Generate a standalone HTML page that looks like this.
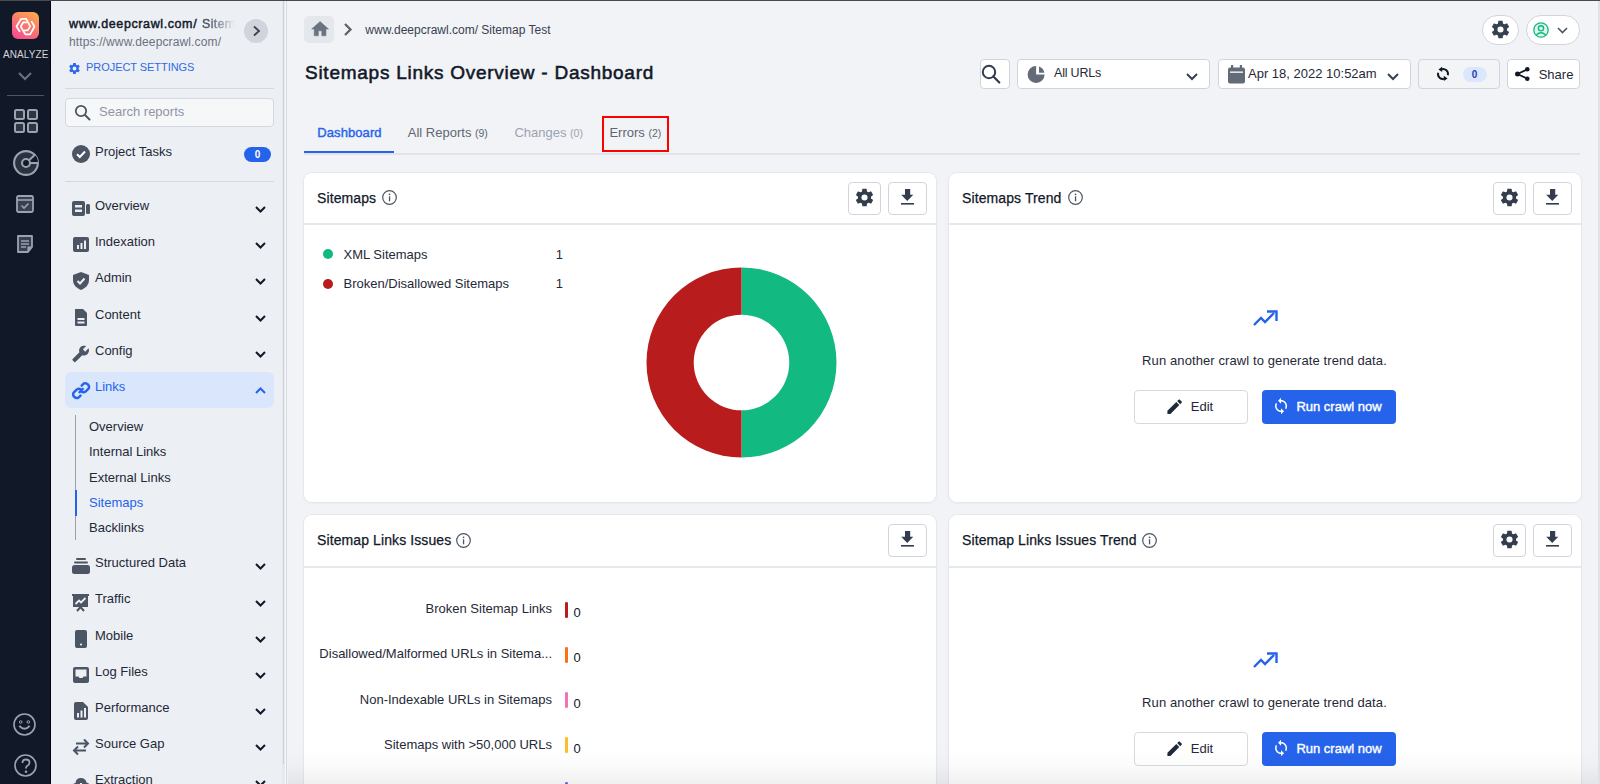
<!DOCTYPE html>
<html><head><meta charset="utf-8">
<style>
*{box-sizing:border-box;margin:0;padding:0}
html,body{width:1600px;height:784px;overflow:hidden;background:#f1f3f7;font-family:"Liberation Sans",Arial,sans-serif;color:#111827}
.abs{position:absolute}
.t{position:absolute;white-space:nowrap;line-height:1}
svg{position:absolute;overflow:visible}
</style></head><body>
<div class="abs" style="left:0px;top:0px;width:51px;height:784px;background:#111827"></div>
<div class="abs" style="left:50px;top:0px;width:1px;height:784px;background:#03050a"></div>
<div class="abs" style="left:12px;top:12px;width:27px;height:27px;border-radius:6px;background:linear-gradient(210deg,#fdb24a 0%,#f8776c 50%,#f5449c 100%)"></div>
<svg style="left:12px;top:12px" width="27" height="27" viewBox="0 0 27 27"><g fill="none" stroke="#fff" stroke-width="1.7" stroke-linejoin="round" stroke-linecap="round"><path d="M7.6 19.2 L4.5 14.5 L9.2 6.8 L14.2 6.8 L18.2 14.3 L15.8 18.4 L12.6 18.4"/><path d="M19.8 9.8 L22.5 14.5 L18.2 22.3 L13.3 22.3 L8.7 14.5 L11.3 10.3 L14.6 10.3"/></g></svg>
<div class="t" style="left:3px;top:49.53px;font-size:10px;color:#d1d5db;letter-spacing:0.1px;">ANALYZE</div>
<svg style="left:18px;top:72px" width="14" height="8" viewBox="0 0 14 8"><path d="M1 1 L7 7 L13 1" fill="none" stroke="#6b7280" stroke-width="2"/></svg>
<div class="abs" style="left:7px;top:95px;width:37px;height:1px;background:#4b5563"></div>
<svg style="left:14px;top:109px" width="24" height="24" viewBox="0 0 24 24"><g fill="#2d3442" stroke="#9ca3af" stroke-width="2"><rect x="1" y="1" width="9" height="9" rx="1.5"/><rect x="14" y="1" width="9" height="9" rx="1.5"/><rect x="1" y="14" width="9" height="9" rx="1.5"/><rect x="14" y="14" width="9" height="9" rx="1.5"/></g></svg>
<svg style="left:12.9px;top:149.7px" width="26" height="26" viewBox="0 0 26 26"><circle cx="13" cy="13" r="11.9" fill="#2a3140" stroke="#9ca3af" stroke-width="2.1"/><path d="M13 13 L22 4.8 A11.9 11.9 0 0 1 24.9 13 Z" fill="#111827"/><path d="M16 10.3 L22.3 4.5 M17 13 L25 13" stroke="#9ca3af" stroke-width="2"/><circle cx="13" cy="13" r="4" fill="#111827" stroke="#9ca3af" stroke-width="2.1"/></svg>
<svg style="left:16px;top:195px" width="18" height="18" viewBox="0 0 18 18"><rect x="1" y="1" width="16" height="16" rx="1.5" fill="#374151" stroke="#9ca3af" stroke-width="1.8"/><path d="M1 5 L17 5" stroke="#9ca3af" stroke-width="1.6"/><path d="M5.5 10.5 L8 13 L12.5 8.5" fill="none" stroke="#9ca3af" stroke-width="1.6"/></svg>
<svg style="left:16px;top:235px" width="18" height="18" viewBox="0 0 18 18"><path d="M2 1 H16 V12 L12 17 H2 Z" fill="#374151" stroke="#9ca3af" stroke-width="1.8" stroke-linejoin="round"/><path d="M5 6 H13 M5 9 H13 M5 12 H10" stroke="#9ca3af" stroke-width="1.5"/><path d="M16 12 H12 V17" fill="#9ca3af" stroke="#9ca3af" stroke-width="1.2"/></svg>
<svg style="left:13px;top:713px" width="23" height="23" viewBox="0 0 23 23"><circle cx="11.5" cy="11.5" r="10.5" fill="none" stroke="#9ca3af" stroke-width="1.6"/><circle cx="7.7" cy="9" r="1.3" fill="none" stroke="#9ca3af" stroke-width="1"/><circle cx="15.3" cy="9" r="1.3" fill="none" stroke="#9ca3af" stroke-width="1"/><path d="M6.3 12.8 Q11.5 18.5 16.7 12.8" fill="none" stroke="#9ca3af" stroke-width="2"/></svg>
<svg style="left:13.5px;top:754px" width="23" height="23" viewBox="0 0 23 23"><circle cx="11.5" cy="11.5" r="10.5" fill="none" stroke="#9ca3af" stroke-width="1.6"/><path d="M8.5 9 Q8.5 5.5 12 5.5 Q15.5 5.5 15.5 8.7 Q15.5 10.8 13 12 Q12 12.6 12 14.5" fill="none" stroke="#9ca3af" stroke-width="1.8"/><circle cx="12" cy="17.8" r="1.3" fill="#9ca3af"/></svg>
<div class="abs" style="left:51px;top:0px;width:232px;height:784px;background:#eceff4"></div>
<div class="abs" style="left:282px;top:0px;width:3px;height:784px;background:#e6e9ee"></div>
<div class="abs" style="left:282.6px;top:0px;width:1.9px;height:763.5px;background:#cdd0d6;border-radius:1px"></div>
<div class="abs" style="left:284.5px;top:0px;width:1.3px;height:784px;background:#f8f9fb"></div>
<div class="abs" style="left:285.8px;top:0px;width:1.1px;height:784px;background:#d6d9de"></div>
<div class="t" style="left:69px;top:18.41px;font-size:12.5px;color:#111827;letter-spacing:0.6px;-webkit-text-stroke:0.45px #111827">www.deepcrawl.com/</div>
<div class="t" style="left:202px;top:18.41px;font-size:12.5px;color:#4b5563;letter-spacing:0.3px;-webkit-text-stroke:0.4px #4b5563;-webkit-mask-image:linear-gradient(90deg,#000 20%,transparent 100%);mask-image:linear-gradient(90deg,#000 20%,transparent 100%)">Sitem</div>
<div class="t" style="left:69px;top:35.84px;font-size:12px;color:#6b7280;letter-spacing:0.13px;">https://www.deepcrawl.com/</div>
<div class="abs" style="left:244px;top:19px;width:24px;height:24px;border-radius:50%;background:#d1d5db"></div>
<svg style="left:252px;top:25px" width="9" height="12" viewBox="0 0 9 12"><path d="M2 1.5 L7 6 L2 10.5" fill="none" stroke="#374151" stroke-width="1.8"/></svg>
<svg style="left:68px;top:62px" width="13" height="13" viewBox="0 0 24 24"><g fill="#2f6ae6"><path d="M12 8.5a3.5 3.5 0 1 0 0 7a3.5 3.5 0 1 0 0-7zM19.4 13c.04-.33.06-.66.06-1s-.02-.67-.06-1l2.1-1.65c.19-.15.24-.42.12-.64l-2-3.46c-.12-.22-.39-.3-.61-.22l-2.49 1c-.52-.39-1.06-.73-1.69-.98l-.37-2.65A.49.49 0 0 0 14 2h-4c-.25 0-.46.18-.49.42l-.38 2.65c-.61.25-1.17.59-1.69.98l-2.49-1a.5.5 0 0 0-.61.22l-2 3.46c-.13.22-.07.49.12.64L4.57 11c-.04.33-.07.67-.07 1s.03.67.07 1l-2.11 1.65c-.19.15-.24.42-.12.64l2 3.46c.12.22.39.3.61.22l2.49-1c.52.39 1.08.73 1.69.98l.38 2.65c.03.24.24.42.49.42h4c.25 0 .46-.18.49-.42l.37-2.65c.62-.25 1.17-.59 1.69-.98l2.49 1c.23.09.49 0 .61-.22l2-3.46c.12-.22.07-.49-.12-.64L19.4 13z" fill-rule="evenodd"/></g></svg>
<div class="t" style="left:86px;top:61.68px;font-size:11px;color:#2f6ae6;letter-spacing:-0.05px;">PROJECT SETTINGS</div>
<div class="abs" style="left:65px;top:88px;width:209px;height:1px;background:#d5d9df"></div>
<div class="abs" style="left:65px;top:97.5px;width:209px;height:29.5px;background:#f6f7f9;border:1px solid #d5d9df;border-radius:4px"></div>
<svg style="left:74px;top:104px" width="17" height="17" viewBox="0 0 17 17"><circle cx="7" cy="7" r="5.2" fill="none" stroke="#4b5563" stroke-width="1.8"/><path d="M11 11 L15.5 15.5" stroke="#4b5563" stroke-width="2" stroke-linecap="round"/></svg>
<div class="t" style="left:99px;top:104.99px;font-size:13px;color:#8f96a3;">Search reports</div>
<svg style="left:71.5px;top:145px" width="18" height="18" viewBox="0 0 18 18"><circle cx="9" cy="9" r="9" fill="#4b5563"/><path d="M5 9.2 L7.8 12 L13 6.5" fill="none" stroke="#fff" stroke-width="2"/></svg>
<div class="t" style="left:95px;top:144.59px;font-size:13px;color:#1f2937;">Project Tasks</div>
<div class="abs" style="left:244px;top:147px;width:27px;height:15px;background:#2563eb;border-radius:8px"></div>
<div class="t" style="left:247.5px;width:20px;text-align:center;top:150.03px;font-size:10px;color:#fff;font-weight:700;">0</div>
<div class="abs" style="left:65px;top:181px;width:209px;height:1px;background:#d5d9df"></div>
<div class="abs" style="left:65px;top:372px;width:209px;height:35.5px;background:#dae6fb;border-radius:6px"></div>
<svg style="left:72px;top:200px" width="18" height="18" viewBox="0 0 18 18"><rect x="0" y="1" width="13" height="15" rx="2" fill="#4b5563"/><rect x="3" y="5" width="7" height="2.5" fill="#eceff4"/><rect x="3" y="9.5" width="7" height="2.5" fill="#eceff4"/><rect x="14" y="4" width="4" height="10" rx="1.5" fill="#4b5563"/></svg>
<div class="t" style="left:95px;top:198.69px;font-size:13px;color:#1f2937;">Overview</div>
<svg style="left:255px;top:206px" width="11" height="7" viewBox="0 0 11 7"><path d="M1 1 L5.5 5.5 L10 1" fill="none" stroke="#111827" stroke-width="2"/></svg>
<svg style="left:72px;top:236px" width="18" height="18" viewBox="0 0 18 18"><rect x="1" y="1" width="16" height="15" rx="2" fill="#4b5563"/><rect x="5" y="9" width="2" height="4" fill="#eceff4"/><rect x="8.5" y="7" width="2" height="6" fill="#eceff4"/><rect x="12" y="4.5" width="2" height="8.5" fill="#eceff4"/></svg>
<div class="t" style="left:95px;top:235.39px;font-size:13px;color:#1f2937;">Indexation</div>
<svg style="left:255px;top:242px" width="11" height="7" viewBox="0 0 11 7"><path d="M1 1 L5.5 5.5 L10 1" fill="none" stroke="#111827" stroke-width="2"/></svg>
<svg style="left:72px;top:272px" width="18" height="18" viewBox="0 0 18 18"><path d="M9 0 L17 3 V8 C17 13 13.5 16 9 18 C4.5 16 1 13 1 8 V3 Z" fill="#4b5563"/><path d="M5.5 9 L8 11.5 L12.5 6.5" fill="none" stroke="#eceff4" stroke-width="2"/></svg>
<div class="t" style="left:95px;top:271.49px;font-size:13px;color:#1f2937;">Admin</div>
<svg style="left:255px;top:278px" width="11" height="7" viewBox="0 0 11 7"><path d="M1 1 L5.5 5.5 L10 1" fill="none" stroke="#111827" stroke-width="2"/></svg>
<svg style="left:72px;top:309px" width="18" height="18" viewBox="0 0 18 18"><path d="M3 0 H11 L15 4 V16 Q15 17 14 17 H4 Q3 17 3 16 Z" fill="#4b5563"/><rect x="5.5" y="9" width="7" height="2" fill="#eceff4"/><rect x="5.5" y="12.5" width="7" height="2" fill="#eceff4"/></svg>
<div class="t" style="left:95px;top:307.99px;font-size:13px;color:#1f2937;">Content</div>
<svg style="left:255px;top:315px" width="11" height="7" viewBox="0 0 11 7"><path d="M1 1 L5.5 5.5 L10 1" fill="none" stroke="#111827" stroke-width="2"/></svg>
<svg style="left:72px;top:345px" width="18" height="18" viewBox="0 0 18 18"><g transform="translate(-0.5 -0.2) scale(0.76) translate(24 0) scale(-1 1)"><path fill="#4b5563" d="M22.7 19l-9.1-9.1c.9-2.3.4-5-1.5-6.9-2-2-5-2.4-7.4-1.3L9 6 6 9 1.6 4.7C.4 7.1.9 10.1 2.9 12.1c1.9 1.9 4.6 2.4 6.9 1.5l9.1 9.1c.4.4 1 .4 1.4 0l2.3-2.3c.5-.4.5-1.1.1-1.4z"/></g></svg>
<div class="t" style="left:95px;top:343.99px;font-size:13px;color:#1f2937;">Config</div>
<svg style="left:255px;top:351px" width="11" height="7" viewBox="0 0 11 7"><path d="M1 1 L5.5 5.5 L10 1" fill="none" stroke="#111827" stroke-width="2"/></svg>
<svg style="left:72px;top:381px" width="18" height="18" viewBox="0 0 18 18"><g fill="none" stroke="#2563eb" stroke-width="2.2" stroke-linecap="round" transform="translate(-0.8 -0.3) scale(1.1)"><path d="M7.5 10.5 L10.5 7.5"/><path d="M9.5 4.5 L11.5 2.5 A3.5 3.5 0 0 1 16 7 L13.5 9.5 A3.5 3.5 0 0 1 9 9.8"/><path d="M8.5 13.5 L6.5 15.5 A3.5 3.5 0 0 1 2 11 L4.5 8.5 A3.5 3.5 0 0 1 9 8.2"/></g></svg>
<div class="t" style="left:95px;top:379.99px;font-size:13px;color:#2563eb;">Links</div>
<svg style="left:255px;top:387px" width="11" height="7" viewBox="0 0 11 7"><path d="M1 6 L5.5 1.5 L10 6" fill="none" stroke="#2563eb" stroke-width="2"/></svg>
<svg style="left:72px;top:557px" width="18" height="18" viewBox="0 0 18 18"><rect x="0" y="8" width="18" height="9" rx="2.5" fill="#4b5563"/><rect x="2" y="4.5" width="14" height="2" rx="1" fill="#4b5563"/><rect x="4" y="1" width="10" height="2" rx="1" fill="#4b5563"/></svg>
<div class="t" style="left:95px;top:556.19px;font-size:13px;color:#1f2937;">Structured Data</div>
<svg style="left:255px;top:563px" width="11" height="7" viewBox="0 0 11 7"><path d="M1 1 L5.5 5.5 L10 1" fill="none" stroke="#111827" stroke-width="2"/></svg>
<svg style="left:72px;top:594px" width="18" height="18" viewBox="0 0 18 18"><rect x="0" y="0" width="17" height="2" fill="#4b5563"/><rect x="1" y="1" width="15" height="12" fill="#4b5563"/><path d="M3.5 10 L7 6.5 L9 8.5 L13.5 4" fill="none" stroke="#eceff4" stroke-width="1.8"/><path d="M5 17 L8.5 13 L12 17" fill="none" stroke="#4b5563" stroke-width="2"/></svg>
<div class="t" style="left:95px;top:592.49px;font-size:13px;color:#1f2937;">Traffic</div>
<svg style="left:255px;top:600px" width="11" height="7" viewBox="0 0 11 7"><path d="M1 1 L5.5 5.5 L10 1" fill="none" stroke="#111827" stroke-width="2"/></svg>
<svg style="left:72px;top:630px" width="18" height="18" viewBox="0 0 18 18"><rect x="3" y="0" width="12" height="18" rx="2" fill="#4b5563"/><circle cx="9" cy="14.5" r="1.1" fill="#eceff4"/></svg>
<div class="t" style="left:95px;top:628.79px;font-size:13px;color:#1f2937;">Mobile</div>
<svg style="left:255px;top:636px" width="11" height="7" viewBox="0 0 11 7"><path d="M1 1 L5.5 5.5 L10 1" fill="none" stroke="#111827" stroke-width="2"/></svg>
<svg style="left:72px;top:666px" width="18" height="18" viewBox="0 0 18 18"><rect x="1" y="1" width="16" height="16" rx="2" fill="#4b5563"/><path d="M3.5 3.5 H14.5 V10.5 H11.5 L10.5 12 H7.5 L6.5 10.5 H3.5 Z" fill="#eceff4"/></svg>
<div class="t" style="left:95px;top:664.99px;font-size:13px;color:#1f2937;">Log Files</div>
<svg style="left:255px;top:672px" width="11" height="7" viewBox="0 0 11 7"><path d="M1 1 L5.5 5.5 L10 1" fill="none" stroke="#111827" stroke-width="2"/></svg>
<svg style="left:72px;top:702px" width="18" height="18" viewBox="0 0 18 18"><path d="M2 2 Q2 0 4 0 H11 L16 5 V16 Q16 18 14 18 H4 Q2 18 2 16 Z" fill="#4b5563"/><rect x="5" y="11" width="2" height="4.5" fill="#eceff4"/><rect x="8.5" y="8.5" width="2" height="7" fill="#eceff4"/><rect x="12" y="6" width="2" height="9.5" fill="#eceff4"/></svg>
<div class="t" style="left:95px;top:701.19px;font-size:13px;color:#1f2937;">Performance</div>
<svg style="left:255px;top:708px" width="11" height="7" viewBox="0 0 11 7"><path d="M1 1 L5.5 5.5 L10 1" fill="none" stroke="#111827" stroke-width="2"/></svg>
<svg style="left:72px;top:738px" width="18" height="18" viewBox="0 0 18 18"><g fill="none" stroke="#4b5563" stroke-width="2"><path d="M4 5.5 H16 M12 1.5 L16 5.5 L12 9.5"/><path d="M14 12.5 H2 M6 8.5 L2 12.5 L6 16.5"/></g></svg>
<div class="t" style="left:95px;top:737.49px;font-size:13px;color:#1f2937;">Source Gap</div>
<svg style="left:255px;top:744px" width="11" height="7" viewBox="0 0 11 7"><path d="M1 1 L5.5 5.5 L10 1" fill="none" stroke="#111827" stroke-width="2"/></svg>
<svg style="left:72px;top:774px" width="18" height="18" viewBox="0 0 18 18"><path d="M4 17 Q0 17 0 13 Q0 9.5 3.5 9 Q4 4 9 4 Q13.5 4 14.5 8.5 Q18 9 18 13 Q18 17 14 17 Z" fill="#4b5563"/><rect x="8" y="9" width="2" height="6" fill="#eceff4"/></svg>
<div class="t" style="left:95px;top:773.49px;font-size:13px;color:#1f2937;">Extraction</div>
<svg style="left:255px;top:780px" width="11" height="7" viewBox="0 0 11 7"><path d="M1 1 L5.5 5.5 L10 1" fill="none" stroke="#111827" stroke-width="2"/></svg>
<div class="abs" style="left:75px;top:415px;width:1px;height:125px;background:#9aa1ac"></div>
<div class="abs" style="left:75px;top:490px;width:2px;height:26px;background:#2563eb"></div>
<div class="t" style="left:89px;top:419.99px;font-size:13px;color:#1f2937;">Overview</div>
<div class="t" style="left:89px;top:445.19px;font-size:13px;color:#1f2937;">Internal Links</div>
<div class="t" style="left:89px;top:470.59px;font-size:13px;color:#1f2937;">External Links</div>
<div class="t" style="left:89px;top:495.79px;font-size:13px;color:#2563eb;">Sitemaps</div>
<div class="t" style="left:89px;top:520.99px;font-size:13px;color:#1f2937;">Backlinks</div>
<div class="abs" style="left:286.9px;top:0px;width:1313.1px;height:784px;background:#f1f3f7"></div>
<div class="abs" style="left:1598px;top:0px;width:2px;height:784px;background:#dfe2e7"></div>
<div class="abs" style="left:304px;top:16px;width:30px;height:27px;background:#e4e7eb;border-radius:5px"></div>
<svg style="left:309.9px;top:18.5px" width="20.2" height="20.2" viewBox="0 0 24 24"><path d="M10 20v-6h4v6h5v-8h3L12 3 2 12h3v8z" fill="#6b7280" stroke="#6b7280" stroke-width="0.6" stroke-linejoin="round"/></svg>
<svg style="left:343px;top:23px" width="10" height="13" viewBox="0 0 10 13"><path d="M2 1 L7.5 6.5 L2 12" fill="none" stroke="#5f6368" stroke-width="2.3"/></svg>
<div class="t" style="left:365.3px;top:23.84px;font-size:12px;color:#374151;">www.deepcrawl.com/ Sitemap Test</div>
<div class="t" style="left:305px;top:63.31px;font-size:19px;color:#111827;letter-spacing:0.74px;-webkit-text-stroke:0.55px #111827">Sitemaps Links Overview - Dashboard</div>
<div class="t" style="left:317.3px;top:125.99px;font-size:13px;color:#2563eb;letter-spacing:0.08px;-webkit-text-stroke:0.4px #2563eb">Dashboard</div>
<div class="t" style="left:407.8px;top:125.99px;font-size:13px;color:#5f6672;">All Reports <span style="font-size:10.5px">(9)</span></div>
<div class="t" style="left:514.4px;top:125.99px;font-size:13px;color:#9ca3af;">Changes <span style="font-size:10.5px">(0)</span></div>
<div class="t" style="left:609.4px;top:125.99px;font-size:13px;color:#5f6672;">Errors <span style="font-size:10.5px">(2)</span></div>
<div class="abs" style="left:304px;top:153px;width:1276px;height:2px;background:#e0e3e7"></div>
<div class="abs" style="left:304px;top:151px;width:90px;height:2px;background:#2563eb"></div>
<div class="abs" style="left:602px;top:116px;width:66.5px;height:36px;border:2px solid #f00"></div>
<div class="abs" style="left:1482px;top:15px;width:37px;height:30px;background:#fff;border:1px solid #d1d5db;border-radius:15px"></div>
<svg style="left:1490.1px;top:18.9px" width="21" height="21" viewBox="0 0 24 24"><g fill="#364152"><path d="M12 8.5a3.5 3.5 0 1 0 0 7a3.5 3.5 0 1 0 0-7zM19.4 13c.04-.33.06-.66.06-1s-.02-.67-.06-1l2.1-1.65c.19-.15.24-.42.12-.64l-2-3.46c-.12-.22-.39-.3-.61-.22l-2.49 1c-.52-.39-1.06-.73-1.69-.98l-.37-2.65A.49.49 0 0 0 14 2h-4c-.25 0-.46.18-.49.42l-.38 2.65c-.61.25-1.17.59-1.69.98l-2.49-1a.5.5 0 0 0-.61.22l-2 3.46c-.13.22-.07.49.12.64L4.57 11c-.04.33-.07.67-.07 1s.03.67.07 1l-2.11 1.65c-.19.15-.24.42-.12.64l2 3.46c.12.22.39.3.61.22l2.49-1c.52.39 1.08.73 1.69.98l.38 2.65c.03.24.24.42.49.42h4c.25 0 .46-.18.49-.42l.37-2.65c.62-.25 1.17-.59 1.69-.98l2.49 1c.23.09.49 0 .61-.22l2-3.46c.12-.22.07-.49-.12-.64L19.4 13z" fill-rule="evenodd"/></g></svg>
<div class="abs" style="left:1526px;top:15px;width:54px;height:30px;background:#fff;border:1px solid #d1d5db;border-radius:15px"></div>
<svg style="left:1533px;top:21.5px" width="16" height="16" viewBox="0 0 16 16"><circle cx="8" cy="8" r="7.2" fill="#dff5ea" stroke="#10b981" stroke-width="1.3"/><circle cx="8" cy="6.3" r="2.6" fill="none" stroke="#10b981" stroke-width="1.4"/><path d="M3.3 13 Q8 8.5 12.7 13" fill="none" stroke="#10b981" stroke-width="1.4"/></svg>
<svg style="left:1557px;top:26.5px" width="11" height="7" viewBox="0 0 11 7"><path d="M1 1 L5.5 5.5 L10 1" fill="none" stroke="#4b5563" stroke-width="1.6"/></svg>
<div class="abs" style="left:980px;top:59px;width:30px;height:30px;background:#fff;border:1px solid #d1d5db;border-radius:4px"></div>
<svg style="left:981.2px;top:63.6px" width="20" height="20" viewBox="0 0 20 20"><circle cx="8" cy="8" r="6.2" fill="none" stroke="#333d4d" stroke-width="2"/><path d="M12.4 12.4 L18.3 18.5" stroke="#333d4d" stroke-width="2.2" stroke-linecap="round"/></svg>
<div class="abs" style="left:1017px;top:59px;width:193px;height:30px;background:#fff;border:1px solid #d1d5db;border-radius:4px"></div>
<svg style="left:1027px;top:66px" width="18" height="18" viewBox="0 0 18 18"><path d="M9.1 0.1 A8.5 8.5 0 1 0 17.6 8.6 H9.1 Z" fill="#646b78"/><path d="M12 0.61 A8.5 8.5 0 0 1 17.38 6.7 L12 6.7 Z" fill="#646b78"/></svg>
<div class="t" style="left:1054px;top:67.41px;font-size:12.5px;color:#1f2937;letter-spacing:-0.2px;">All URLs</div>
<svg style="left:1186px;top:73px" width="12" height="8" viewBox="0 0 12 8"><path d="M1 1 L6 6 L11 1" fill="none" stroke="#374151" stroke-width="2"/></svg>
<div class="abs" style="left:1218px;top:59px;width:193px;height:30px;background:#fff;border:1px solid #d1d5db;border-radius:4px"></div>
<svg style="left:1227px;top:64.5px" width="19" height="19" viewBox="0 0 19 19"><rect x="1" y="2.5" width="17" height="16" rx="2" fill="#646b78"/><rect x="4" y="0" width="2.2" height="4" fill="#646b78"/><rect x="12.8" y="0" width="2.2" height="4" fill="#646b78"/><rect x="3" y="6.5" width="13" height="1.3" fill="#fff"/></svg>
<div class="t" style="left:1248px;top:66.99px;font-size:13px;color:#1f2937;">Apr 18, 2022 10:52am</div>
<svg style="left:1387px;top:73px" width="12" height="8" viewBox="0 0 12 8"><path d="M1 1 L6 6 L11 1" fill="none" stroke="#374151" stroke-width="2"/></svg>
<div class="abs" style="left:1418px;top:59px;width:82px;height:30px;background:#f3f4f6;border:1px solid #d1d5db;border-radius:4px"></div>
<svg style="left:1436.3px;top:66.8px" width="14" height="14" viewBox="0 0 14 14"><path d="M5.3 2.3 A5 5 0 0 1 11.83 8.29 M2.17 5.71 A5 5 0 0 0 8.71 11.7" fill="none" stroke="#111827" stroke-width="1.9"/><path d="M2.4 2.5 L6.2 -0.2 L6.2 5 Z M11.6 11.5 L7.8 8.8 L7.8 14.1 Z" fill="#111827"/></svg>
<div class="abs" style="left:1462.5px;top:67px;width:24px;height:15px;background:#dbe7fd;border-radius:7.5px"></div>
<div class="t" style="left:1464.5px;width:20px;text-align:center;top:69.53px;font-size:10px;color:#1e40af;font-weight:700;">0</div>
<div class="abs" style="left:1507px;top:59px;width:73px;height:30px;background:#fff;border:1px solid #d1d5db;border-radius:4px"></div>
<svg style="left:1515px;top:67px" width="15" height="14" viewBox="0 0 15 14"><g fill="#111827"><circle cx="12.3" cy="2.3" r="2.3"/><circle cx="2.5" cy="7" r="2.5"/><circle cx="12.3" cy="11.7" r="2.3"/></g><path d="M12 2.5 L2.5 7 L12 11.5" fill="none" stroke="#111827" stroke-width="1.8"/></svg>
<div class="t" style="left:1538.7px;top:67.89px;font-size:13px;color:#1f2937;">Share</div>
<div class="abs" style="left:304px;top:173px;width:632px;height:329px;background:#fff;border-radius:8px;box-shadow:0 0 0 1px #e6e8ec,0 1px 3px rgba(0,0,0,.07)"></div>
<div class="abs" style="left:304px;top:223px;width:632px;height:1.6px;background:#e5e8ec"></div>
<div class="t" style="left:317px;top:191.24px;font-size:14px;color:#111827;letter-spacing:0.1px;-webkit-text-stroke:0.25px #111827">Sitemaps</div>
<svg style="left:382.2px;top:190px" width="15" height="15" viewBox="0 0 15 15"><circle cx="7.5" cy="7.5" r="6.8" fill="none" stroke="#4b5563" stroke-width="1.2"/><rect x="6.9" y="6.3" width="1.3" height="5" fill="#4b5563"/><circle cx="7.55" cy="4.3" r="0.85" fill="#4b5563"/></svg>
<div class="abs" style="left:848px;top:182px;width:33px;height:33px;background:#fff;border:1px solid #d1d5db;border-radius:4px"></div>
<svg style="left:854px;top:187.3px" width="21" height="21" viewBox="0 0 24 24"><g fill="#333d4d"><path d="M12 8.5a3.5 3.5 0 1 0 0 7a3.5 3.5 0 1 0 0-7zM19.4 13c.04-.33.06-.66.06-1s-.02-.67-.06-1l2.1-1.65c.19-.15.24-.42.12-.64l-2-3.46c-.12-.22-.39-.3-.61-.22l-2.49 1c-.52-.39-1.06-.73-1.69-.98l-.37-2.65A.49.49 0 0 0 14 2h-4c-.25 0-.46.18-.49.42l-.38 2.65c-.61.25-1.17.59-1.69.98l-2.49-1a.5.5 0 0 0-.61.22l-2 3.46c-.13.22-.07.49.12.64L4.57 11c-.04.33-.07.67-.07 1s.03.67.07 1l-2.11 1.65c-.19.15-.24.42-.12.64l2 3.46c.12.22.39.3.61.22l2.49-1c.52.39 1.08.73 1.69.98l.38 2.65c.03.24.24.42.49.42h4c.25 0 .46-.18.49-.42l.37-2.65c.62-.25 1.17-.59 1.69-.98l2.49 1c.23.09.49 0 .61-.22l2-3.46c.12-.22.07-.49-.12-.64L19.4 13z" fill-rule="evenodd"/></g></svg>
<div class="abs" style="left:888px;top:182px;width:39px;height:33px;background:#fff;border:1px solid #d1d5db;border-radius:4px"></div>
<svg style="left:900.8px;top:189.2px" width="13" height="16" viewBox="0 0 13 16"><rect x="4" y="0" width="5.2" height="6.3" fill="#333d4d"/><path d="M0.2 5.8 H12.3 L6.25 12 Z" fill="#333d4d"/><rect x="0" y="14" width="13" height="1.6" fill="#333d4d"/></svg>
<div class="abs" style="left:949px;top:173px;width:632px;height:329px;background:#fff;border-radius:8px;box-shadow:0 0 0 1px #e6e8ec,0 1px 3px rgba(0,0,0,.07)"></div>
<div class="abs" style="left:949px;top:223px;width:632px;height:1.6px;background:#e5e8ec"></div>
<div class="t" style="left:962px;top:191.24px;font-size:14px;color:#111827;letter-spacing:0.1px;-webkit-text-stroke:0.25px #111827">Sitemaps Trend</div>
<svg style="left:1068.0px;top:190px" width="15" height="15" viewBox="0 0 15 15"><circle cx="7.5" cy="7.5" r="6.8" fill="none" stroke="#4b5563" stroke-width="1.2"/><rect x="6.9" y="6.3" width="1.3" height="5" fill="#4b5563"/><circle cx="7.55" cy="4.3" r="0.85" fill="#4b5563"/></svg>
<div class="abs" style="left:1493px;top:182px;width:33px;height:33px;background:#fff;border:1px solid #d1d5db;border-radius:4px"></div>
<svg style="left:1499px;top:187.3px" width="21" height="21" viewBox="0 0 24 24"><g fill="#333d4d"><path d="M12 8.5a3.5 3.5 0 1 0 0 7a3.5 3.5 0 1 0 0-7zM19.4 13c.04-.33.06-.66.06-1s-.02-.67-.06-1l2.1-1.65c.19-.15.24-.42.12-.64l-2-3.46c-.12-.22-.39-.3-.61-.22l-2.49 1c-.52-.39-1.06-.73-1.69-.98l-.37-2.65A.49.49 0 0 0 14 2h-4c-.25 0-.46.18-.49.42l-.38 2.65c-.61.25-1.17.59-1.69.98l-2.49-1a.5.5 0 0 0-.61.22l-2 3.46c-.13.22-.07.49.12.64L4.57 11c-.04.33-.07.67-.07 1s.03.67.07 1l-2.11 1.65c-.19.15-.24.42-.12.64l2 3.46c.12.22.39.3.61.22l2.49-1c.52.39 1.08.73 1.69.98l.38 2.65c.03.24.24.42.49.42h4c.25 0 .46-.18.49-.42l.37-2.65c.62-.25 1.17-.59 1.69-.98l2.49 1c.23.09.49 0 .61-.22l2-3.46c.12-.22.07-.49-.12-.64L19.4 13z" fill-rule="evenodd"/></g></svg>
<div class="abs" style="left:1533px;top:182px;width:39px;height:33px;background:#fff;border:1px solid #d1d5db;border-radius:4px"></div>
<svg style="left:1545.8px;top:189.2px" width="13" height="16" viewBox="0 0 13 16"><rect x="4" y="0" width="5.2" height="6.3" fill="#333d4d"/><path d="M0.2 5.8 H12.3 L6.25 12 Z" fill="#333d4d"/><rect x="0" y="14" width="13" height="1.6" fill="#333d4d"/></svg>
<div class="abs" style="left:304px;top:515px;width:632px;height:300px;background:#fff;border-radius:8px;box-shadow:0 0 0 1px #e6e8ec,0 1px 3px rgba(0,0,0,.07)"></div>
<div class="abs" style="left:304px;top:566px;width:632px;height:1.6px;background:#e5e8ec"></div>
<div class="t" style="left:317px;top:533.44px;font-size:14px;color:#111827;letter-spacing:0.1px;-webkit-text-stroke:0.25px #111827">Sitemap Links Issues</div>
<svg style="left:456.3px;top:533px" width="15" height="15" viewBox="0 0 15 15"><circle cx="7.5" cy="7.5" r="6.8" fill="none" stroke="#4b5563" stroke-width="1.2"/><rect x="6.9" y="6.3" width="1.3" height="5" fill="#4b5563"/><circle cx="7.55" cy="4.3" r="0.85" fill="#4b5563"/></svg>
<div class="abs" style="left:888px;top:524px;width:39px;height:33px;background:#fff;border:1px solid #d1d5db;border-radius:4px"></div>
<svg style="left:900.8px;top:531.2px" width="13" height="16" viewBox="0 0 13 16"><rect x="4" y="0" width="5.2" height="6.3" fill="#333d4d"/><path d="M0.2 5.8 H12.3 L6.25 12 Z" fill="#333d4d"/><rect x="0" y="14" width="13" height="1.6" fill="#333d4d"/></svg>
<div class="abs" style="left:949px;top:515px;width:632px;height:300px;background:#fff;border-radius:8px;box-shadow:0 0 0 1px #e6e8ec,0 1px 3px rgba(0,0,0,.07)"></div>
<div class="abs" style="left:949px;top:566px;width:632px;height:1.6px;background:#e5e8ec"></div>
<div class="t" style="left:962px;top:533.44px;font-size:14px;color:#111827;letter-spacing:0.1px;-webkit-text-stroke:0.25px #111827">Sitemap Links Issues Trend</div>
<svg style="left:1142.1px;top:533px" width="15" height="15" viewBox="0 0 15 15"><circle cx="7.5" cy="7.5" r="6.8" fill="none" stroke="#4b5563" stroke-width="1.2"/><rect x="6.9" y="6.3" width="1.3" height="5" fill="#4b5563"/><circle cx="7.55" cy="4.3" r="0.85" fill="#4b5563"/></svg>
<div class="abs" style="left:1493px;top:524px;width:33px;height:33px;background:#fff;border:1px solid #d1d5db;border-radius:4px"></div>
<svg style="left:1499px;top:529.3px" width="21" height="21" viewBox="0 0 24 24"><g fill="#333d4d"><path d="M12 8.5a3.5 3.5 0 1 0 0 7a3.5 3.5 0 1 0 0-7zM19.4 13c.04-.33.06-.66.06-1s-.02-.67-.06-1l2.1-1.65c.19-.15.24-.42.12-.64l-2-3.46c-.12-.22-.39-.3-.61-.22l-2.49 1c-.52-.39-1.06-.73-1.69-.98l-.37-2.65A.49.49 0 0 0 14 2h-4c-.25 0-.46.18-.49.42l-.38 2.65c-.61.25-1.17.59-1.69.98l-2.49-1a.5.5 0 0 0-.61.22l-2 3.46c-.13.22-.07.49.12.64L4.57 11c-.04.33-.07.67-.07 1s.03.67.07 1l-2.11 1.65c-.19.15-.24.42-.12.64l2 3.46c.12.22.39.3.61.22l2.49-1c.52.39 1.08.73 1.69.98l.38 2.65c.03.24.24.42.49.42h4c.25 0 .46-.18.49-.42l.37-2.65c.62-.25 1.17-.59 1.69-.98l2.49 1c.23.09.49 0 .61-.22l2-3.46c.12-.22.07-.49-.12-.64L19.4 13z" fill-rule="evenodd"/></g></svg>
<div class="abs" style="left:1533px;top:524px;width:39px;height:33px;background:#fff;border:1px solid #d1d5db;border-radius:4px"></div>
<svg style="left:1545.8px;top:531.2px" width="13" height="16" viewBox="0 0 13 16"><rect x="4" y="0" width="5.2" height="6.3" fill="#333d4d"/><path d="M0.2 5.8 H12.3 L6.25 12 Z" fill="#333d4d"/><rect x="0" y="14" width="13" height="1.6" fill="#333d4d"/></svg>
<div class="abs" style="left:322.7px;top:249.3px;width:10px;height:10px;border-radius:50%;background:#10b981"></div>
<div class="t" style="left:343.5px;top:247.89px;font-size:13px;color:#1f2937;">XML Sitemaps</div>
<div class="t" style="left:555.7px;top:247.89px;font-size:13px;color:#1f2937;">1</div>
<div class="abs" style="left:322.7px;top:278.8px;width:10px;height:10px;border-radius:50%;background:#b91c1c"></div>
<div class="t" style="left:343.5px;top:277.29px;font-size:13px;color:#1f2937;">Broken/Disallowed Sitemaps</div>
<div class="t" style="left:555.7px;top:277.29px;font-size:13px;color:#1f2937;">1</div>
<svg style="left:646px;top:267px" width="191" height="191" viewBox="0 0 191 191"><path d="M95.5 0.5 A95 95 0 0 1 95.5 190.5 V143.3 A47.8 47.8 0 0 0 95.5 47.7 Z" fill="#12b981"/><path d="M95.5 0.5 A95 95 0 0 0 95.5 190.5 V143.3 A47.8 47.8 0 0 1 95.5 47.7 Z" fill="#b91c1c"/></svg>
<svg style="left:1253px;top:310px" width="26" height="16" viewBox="0 0 26 16"><path d="M1 15 L8 8 L12 12 L21 3" fill="none" stroke="#2563eb" stroke-width="2.4"/><path d="M14 1.5 H23.5 V11" fill="none" stroke="#2563eb" stroke-width="2.4"/></svg>
<div class="t" style="left:1114.5px;width:300px;text-align:center;top:353.79px;font-size:13px;color:#1f2937;letter-spacing:0.1px;">Run another crawl to generate trend data.</div>
<div class="abs" style="left:1134px;top:390px;width:114px;height:34px;background:#fff;border:1px solid #d6d9de;border-radius:4px"></div>
<svg style="left:1165px;top:397.1px" width="19.3" height="19.3" viewBox="0 0 24 24"><path fill="#1f2937" d="M3 17.25V21h3.75L17.81 9.94l-3.75-3.75L3 17.25zM20.71 7.04c.39-.39.39-1.02 0-1.41l-2.34-2.34a.9959.9959 0 0 0-1.41 0l-1.83 1.83 3.75 3.75 1.83-1.83z"/></svg>
<div class="t" style="left:1190.8px;top:400.39px;font-size:13px;color:#1f2937;">Edit</div>
<div class="abs" style="left:1261.6px;top:390px;width:134px;height:34px;background:#2563eb;border-radius:4px"></div>
<svg style="left:1271.8px;top:397.4px" width="18.1" height="18.1" viewBox="0 0 24 24"><g fill="#fff"><path d="M12 4V1L8 5l4 4V6c3.31 0 6 2.69 6 6 0 1.01-.25 1.97-.7 2.8l1.46 1.46C19.54 15.03 20 13.57 20 12c0-4.42-3.58-8-8-8zm0 14c-3.31 0-6-2.69-6-6 0-1.01.25-1.97.7-2.8L5.24 7.74C4.46 8.97 4 10.43 4 12c0 4.42 3.58 8 8 8v3l4-4-4-4v3z"/></g></svg>
<div class="t" style="left:1296.4px;top:400.39px;font-size:13px;color:#fff;letter-spacing:0px;-webkit-text-stroke:0.4px #fff">Run crawl now</div>
<svg style="left:1253px;top:651.5px" width="26" height="16" viewBox="0 0 26 16"><path d="M1 15 L8 8 L12 12 L21 3" fill="none" stroke="#2563eb" stroke-width="2.4"/><path d="M14 1.5 H23.5 V11" fill="none" stroke="#2563eb" stroke-width="2.4"/></svg>
<div class="t" style="left:1114.5px;width:300px;text-align:center;top:696.19px;font-size:13px;color:#1f2937;letter-spacing:0.1px;">Run another crawl to generate trend data.</div>
<div class="abs" style="left:1134px;top:731.5px;width:114px;height:34px;background:#fff;border:1px solid #d6d9de;border-radius:4px"></div>
<svg style="left:1165px;top:738.6px" width="19.3" height="19.3" viewBox="0 0 24 24"><path fill="#1f2937" d="M3 17.25V21h3.75L17.81 9.94l-3.75-3.75L3 17.25zM20.71 7.04c.39-.39.39-1.02 0-1.41l-2.34-2.34a.9959.9959 0 0 0-1.41 0l-1.83 1.83 3.75 3.75 1.83-1.83z"/></svg>
<div class="t" style="left:1190.8px;top:741.89px;font-size:13px;color:#1f2937;">Edit</div>
<div class="abs" style="left:1261.6px;top:731.5px;width:134px;height:34px;background:#2563eb;border-radius:4px"></div>
<svg style="left:1271.8px;top:738.9px" width="18.1" height="18.1" viewBox="0 0 24 24"><g fill="#fff"><path d="M12 4V1L8 5l4 4V6c3.31 0 6 2.69 6 6 0 1.01-.25 1.97-.7 2.8l1.46 1.46C19.54 15.03 20 13.57 20 12c0-4.42-3.58-8-8-8zm0 14c-3.31 0-6-2.69-6-6 0-1.01.25-1.97.7-2.8L5.24 7.74C4.46 8.97 4 10.43 4 12c0 4.42 3.58 8 8 8v3l4-4-4-4v3z"/></g></svg>
<div class="t" style="left:1296.4px;top:741.89px;font-size:13px;color:#fff;letter-spacing:0px;-webkit-text-stroke:0.4px #fff">Run crawl now</div>
<div class="t" style="right:1048px;top:601.69px;font-size:13px;color:#1f2937;">Broken Sitemap Links</div>
<div class="t" style="left:573.5px;top:605.69px;font-size:13px;color:#111827;">0</div>
<div class="abs" style="left:565.2px;top:602.0px;width:2.6px;height:15.8px;background:#b91c1c;border-radius:1.3px"></div>
<div class="t" style="right:1048px;top:647.29px;font-size:13px;color:#1f2937;">Disallowed/Malformed URLs in Sitema...</div>
<div class="t" style="left:573.5px;top:651.29px;font-size:13px;color:#111827;">0</div>
<div class="abs" style="left:565.2px;top:647.07px;width:2.6px;height:15.8px;background:#f97316;border-radius:1.3px"></div>
<div class="t" style="right:1048px;top:692.89px;font-size:13px;color:#1f2937;">Non-Indexable URLs in Sitemaps</div>
<div class="t" style="left:573.5px;top:696.89px;font-size:13px;color:#111827;">0</div>
<div class="abs" style="left:565.2px;top:692.14px;width:2.6px;height:15.8px;background:#f472b6;border-radius:1.3px"></div>
<div class="t" style="right:1048px;top:738.49px;font-size:13px;color:#1f2937;">Sitemaps with &gt;50,000 URLs</div>
<div class="t" style="left:573.5px;top:742.49px;font-size:13px;color:#111827;">0</div>
<div class="abs" style="left:565.2px;top:737.21px;width:2.6px;height:15.8px;background:#fbbf24;border-radius:1.3px"></div>
<div class="abs" style="left:565.2px;top:782.28px;width:2.6px;height:15.8px;background:#8b5cf6;border-radius:1.3px"></div>
<div class="abs" style="left:288px;top:748px;width:1310px;height:36px;background:linear-gradient(180deg,rgba(0,0,0,0),rgba(0,0,0,.015) 50%,rgba(0,0,0,.06))"></div>
<div class="abs" style="left:0;top:0;width:1600px;height:1px;background:#4a4a4a"></div>
</body></html>
